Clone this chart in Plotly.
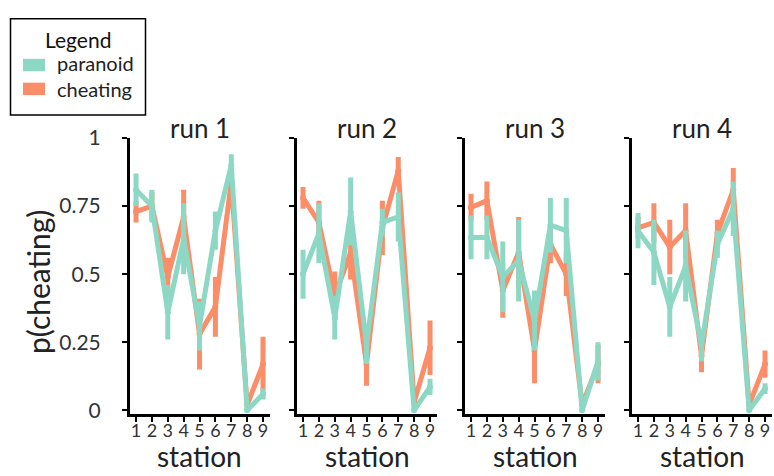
import plotly.graph_objects as go

stations = [1, 2, 3, 4, 5, 6, 7, 8, 9]
runs = ["run 1", "run 2", "run 3", "run 4"]
series_names = ["paranoid", "cheating"]
y_tick_vals = [0, 0.25, 0.5, 0.75, 1]
y_tick_text = ["0", "0.25", "0.5", "0.75", "1"]

# p(cheating) means per run, per station
paranoid_run1 = [0.81, 0.75, 0.36, 0.63, 0.31, 0.66, 0.90, 0.00, 0.06]
paranoid_run2 = [0.50, 0.65, 0.34, 0.73, 0.24, 0.69, 0.71, 0.00, 0.086]
paranoid_run3 = [0.635, 0.635, 0.49, 0.55, 0.33, 0.68, 0.66, 0.00, 0.18]
paranoid_run4 = [0.66, 0.58, 0.38, 0.53, 0.24, 0.61, 0.74, 0.00, 0.08]

cheating_run1 = [0.73, 0.75, 0.49, 0.71, 0.28, 0.38, 0.84, 0.02, 0.17]
cheating_run2 = [0.78, 0.69, 0.42, 0.58, 0.17, 0.67, 0.88, 0.03, 0.23]
cheating_run3 = [0.745, 0.77, 0.44, 0.58, 0.22, 0.61, 0.50, 0.02, 0.17]
cheating_run4 = [0.67, 0.69, 0.60, 0.66, 0.20, 0.65, 0.81, 0.02, 0.17]

# error bar half-lengths
paranoid_err1 = [0.06, 0.06, 0.10, 0.13, 0.09, 0.07, 0.04, 0.0, 0.02]
paranoid_err2 = [0.09, 0.11, 0.08, 0.125, 0.07, 0.05, 0.09, 0.0, 0.03]
paranoid_err3 = [0.08, 0.08, 0.13, 0.15, 0.11, 0.10, 0.12, 0.0, 0.07]
paranoid_err4 = [0.065, 0.12, 0.11, 0.13, 0.06, 0.05, 0.10, 0.0, 0.02]

cheating_err1 = [0.04, 0.05, 0.07, 0.10, 0.13, 0.11, 0.05, 0.0, 0.10]
cheating_err2 = [0.04, 0.08, 0.09, 0.10, 0.08, 0.10, 0.05, 0.0, 0.10]
cheating_err3 = [0.05, 0.07, 0.10, 0.13, 0.12, 0.07, 0.08, 0.0, 0.07]
cheating_err4 = [0.04, 0.07, 0.10, 0.10, 0.06, 0.05, 0.08, 0.0, 0.05]

paranoid = [paranoid_run1, paranoid_run2, paranoid_run3, paranoid_run4]
cheating = [cheating_run1, cheating_run2, cheating_run3, cheating_run4]
paranoid_err = [paranoid_err1, paranoid_err2, paranoid_err3, paranoid_err4]
cheating_err = [cheating_err1, cheating_err2, cheating_err3, cheating_err4]

TEAL = "#8DD8C4"
ORANGE = "#FB8D69"
FONT = "Lato"
W, H = 774, 476

# panel pixel extents
panel_px = [(130, 270), (297, 437), (465, 605), (632, 772)]
y_top_px, y_bot_px = 130, 419

fig = go.Figure()

for i in range(4):
    xa = "x" if i == 0 else f"x{i+1}"
    ya = "y" if i == 0 else f"y{i+1}"
    fig.add_trace(go.Scatter(
        x=stations, y=cheating[i], xaxis=xa, yaxis=ya,
        mode="lines+markers", line=dict(color=ORANGE, width=5),
        marker=dict(color=ORANGE, size=6),
        error_y=dict(type="data", array=cheating_err[i], color=ORANGE,
                     thickness=5, width=0),
        showlegend=False, name=series_names[1]))
    fig.add_trace(go.Scatter(
        x=stations, y=paranoid[i], xaxis=xa, yaxis=ya,
        mode="lines+markers", line=dict(color=TEAL, width=5),
        marker=dict(color=TEAL, size=6),
        error_y=dict(type="data", array=paranoid_err[i], color=TEAL,
                     thickness=5, width=0),
        showlegend=False, name=series_names[0]))

layout = dict(
    width=W, height=H, margin=dict(l=0, r=0, t=0, b=0),
    paper_bgcolor="white", plot_bgcolor="white",
    font=dict(family=FONT, color="#222222"),
    showlegend=False,
)

ydom = [1 - y_bot_px / H, 1 - y_top_px / H]
for i, (x0, x1) in enumerate(panel_px):
    sfx = "" if i == 0 else str(i + 1)
    layout["xaxis" + sfx] = dict(
        domain=[x0 / W, min(x1 / W, 1.0)], range=[0.62, 9.44],
        anchor="y" + sfx, tickvals=stations,
        ticks="outside", ticklen=5, tickwidth=2, tickcolor="black",
        showline=True, linecolor="black", linewidth=3,
        showgrid=False, zeroline=False,
        tickfont=dict(size=18, family=FONT, color="#333333"),
        ticklabelstandoff=-6,
        fixedrange=True,
    )
    layout["yaxis" + sfx] = dict(
        domain=ydom, range=[-0.012, 1.0],
        anchor="x" + sfx, tickvals=y_tick_vals,
        ticktext=y_tick_text, showticklabels=(i == 0),
        ticks="outside", ticklen=5, tickwidth=2, tickcolor="black",
        showline=True, linecolor="black", linewidth=3,
        showgrid=False, zeroline=False,
        tickfont=dict(size=21, family=FONT, color="#333333"),
        ticklabelstandoff=17,
    )

annotations = []
for i, (x0, x1) in enumerate(panel_px):
    cx = (x0 + x1) / 2 / W
    annotations.append(dict(text=runs[i], x=cx, y=1 - 120 / H, xref="paper", yref="paper",
                            showarrow=False, xanchor="center", yanchor="middle",
                            font=dict(size=26, family=FONT, color="#222222")))
    annotations.append(dict(text="station", x=cx, y=1 - 463 / H, xref="paper", yref="paper",
                            showarrow=False, xanchor="center", yanchor="middle",
                            font=dict(size=28, family=FONT, color="#222222")))
annotations.append(dict(text="p(cheating)", x=38 / W, y=1 - 281 / H, xref="paper", yref="paper",
                        showarrow=False, textangle=-90, xanchor="center", yanchor="middle",
                        font=dict(size=30, family=FONT, color="#222222")))

# legend box (manual)
annotations.append(dict(text="Legend", x=77.5 / W, y=1 - 27 / H, xref="paper", yref="paper",
                        showarrow=False, xanchor="center", yanchor="middle",
                        font=dict(size=21, family=FONT, color="#111111")))
annotations.append(dict(text="<br>".join(series_names), x=55 / W, y=1 - 65 / H,
                        xref="paper", yref="paper", align="left",
                        showarrow=False, xanchor="left", yanchor="middle",
                        font=dict(size=20, family=FONT, color="#222222")))

shapes = [
    dict(type="rect", xref="paper", yref="paper", x0=10.5 / W, x1=145.5 / W,
         y0=1 - 106 / H, y1=1 - 5 / H, line=dict(color="black", width=1.5),
         fillcolor="rgba(0,0,0,0)"),
    dict(type="rect", xref="paper", yref="paper", x0=23 / W, x1=45 / W,
         y0=1 - 60 / H, y1=1 - 47 / H, line=dict(width=0), fillcolor=TEAL),
    dict(type="rect", xref="paper", yref="paper", x0=23 / W, x1=45 / W,
         y0=1 - 85 / H, y1=1 - 72 / H, line=dict(width=0), fillcolor=ORANGE),
]
layout["annotations"] = annotations
layout["shapes"] = shapes

fig.update_layout(**layout)
fig.write_html("out.html")
